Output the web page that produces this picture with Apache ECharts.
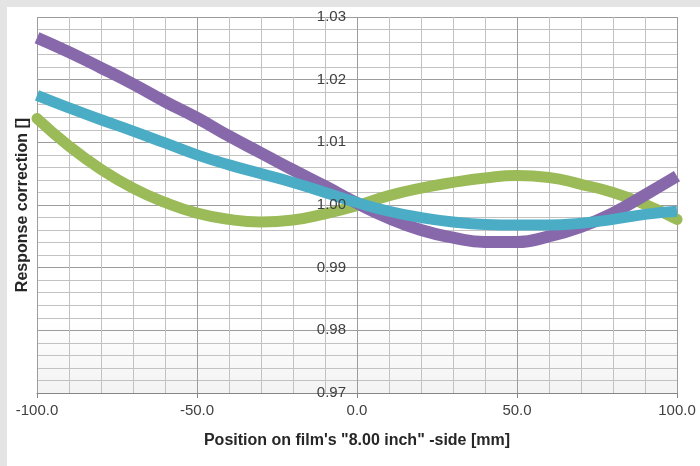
<!DOCTYPE html>
<html>
<head>
<meta charset="utf-8">
<script src="https://cdn.jsdelivr.net/npm/echarts@6/dist/echarts.min.js"></script>
<style>
html,body{margin:0;padding:0;background:#e4e4e4;width:700px;height:466px;overflow:hidden;}
#chart{position:absolute;left:7px;top:7px;width:693px;height:459px;background:#ffffff;}
</style>
</head>
<body>
<div id="chart"></div>
<script>
const positions = [-100,-90,-80,-70,-60,-50,-40,-30,-20,-10,0,10,20,30,40,50,60,70,80,90,100];
const purpleValues = [1.0267,1.0244,1.0219,1.0193,1.0165,1.0139,1.0110,1.0083,1.0056,1.0030,1.0003,0.9979,0.9960,0.9948,0.9941,0.9941,0.9950,0.9965,0.9987,1.0016,1.0046];
const cyanValues = [1.0175,1.0155,1.0136,1.0118,1.0099,1.0080,1.0064,1.0050,1.0036,1.0020,1.0004,0.9990,0.9980,0.9973,0.9969,0.9968,0.9968,0.9971,0.9977,0.9985,0.9990];
const greenValues = [1.0138,1.0094,1.0057,1.0027,1.0004,0.9987,0.9977,0.9973,0.9976,0.9986,0.9999,1.0015,1.0027,1.0036,1.0043,1.0047,1.0044,1.0033,1.0020,1.0001,0.9977];
const xTicks = [-100,-50,0,50,100];
const yTicks = [0.97,0.98,0.99,1.00,1.01,1.02,1.03];
const xTitle = 'Position on film\'s "8.00 inch" -side [mm]';
const yTitle = 'Response correction []';

function pairs(vals){ return positions.map((x,i)=>[x, vals[i]]); }

const FONT = '"Liberation Sans", Arial, sans-serif';
const yMin = yTicks[0], yMax = yTicks[yTicks.length-1];
const chart = echarts.init(document.getElementById('chart'), null, {renderer:'canvas'});
chart.setOption({
  animation:false,
  grid:[
    {left:30, top:10, width:640, height:376, show:true, borderWidth:0,
     backgroundColor:{type:'linear',x:0,y:0,x2:0,y2:1,colorStops:[{offset:0,color:'#ffffff'},{offset:0.8,color:'#ffffff'},{offset:1,color:'#f3f3f3'}]}},
    {left:350, top:10, width:320, height:376, show:false}
  ],
  xAxis:[{
    type:'value', gridIndex:0, min:xTicks[0], max:xTicks[xTicks.length-1], interval:50,
    name:xTitle, nameLocation:'middle', nameGap:40,
    nameTextStyle:{fontFamily:FONT, fontSize:16, fontWeight:'bold', color:'#262626'},
    axisLine:{onZero:false, lineStyle:{color:'#868686', width:1}},
    axisTick:{show:true, length:5, lineStyle:{color:'#868686'}},
    axisLabel:{fontFamily:FONT, fontSize:15, color:'#404040', margin:10, formatter:v=>v.toFixed(1)},
    splitLine:{show:true, lineStyle:{color:'#9c9c9c', width:1}},
    minorTick:{show:false, splitNumber:5},
    minorSplitLine:{show:true, lineStyle:{color:'#c2c2c2', width:1}}
  },{
    type:'value', gridIndex:1, min:0, max:100, show:false
  }],
  yAxis:[{
    type:'value', gridIndex:0, min:yMin, max:yMax, interval:0.01, position:'left', z:0,
    axisLine:{show:false, onZero:false},
    axisTick:{show:false},
    axisLabel:{show:false},
    splitLine:{show:true, lineStyle:{color:'#9c9c9c', width:1}},
    minorTick:{show:false, splitNumber:5},
    minorSplitLine:{show:true, lineStyle:{color:'#c2c2c2', width:1}}
  },{
    type:'value', gridIndex:1, min:yMin, max:yMax, interval:0.01, position:'left', z:10,
    axisLine:{show:false, onZero:false},
    axisTick:{show:false},
    axisLabel:{fontFamily:FONT, fontSize:15, color:'#404040', margin:11, formatter:v=>v.toFixed(2)},
    splitLine:{show:false}
  }],
  graphic:[{
    type:'text', x:16, y:198, rotation:Math.PI/2,
    style:{text:yTitle, font:'bold 16px '+FONT, fill:'#262626', textAlign:'center', textVerticalAlign:'middle'}
  }],
  series:[
    {type:'line', name:'green', xAxisIndex:0, yAxisIndex:0, data:pairs(greenValues), smooth:true, showSymbol:false, z:2,
     lineStyle:{color:'#9bbb59', width:11, cap:'round'}},
    {type:'line', name:'purple', xAxisIndex:0, yAxisIndex:0, data:pairs(purpleValues), smooth:true, showSymbol:false, z:3,
     lineStyle:{color:'#8769ab', width:12}},
    {type:'line', name:'cyan', xAxisIndex:0, yAxisIndex:0, data:pairs(cyanValues), smooth:true, showSymbol:false, z:4,
     lineStyle:{color:'#4bacc6', width:11}}
  ]
});
</script>
</body>
</html>
